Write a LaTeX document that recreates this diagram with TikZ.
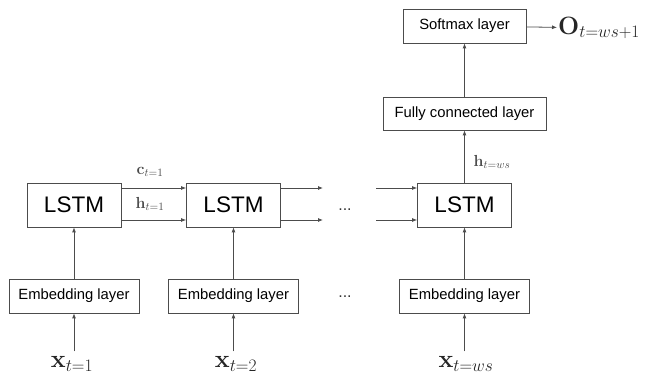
\RequirePackage{fix-cm}
\documentclass[tikz,border=0pt]{standalone}
\usepackage[no-math]{fontspec}
\newfontfamily\arial{Liberation Sans}
\usetikzlibrary{arrows.meta}
\begin{document}
\begin{tikzpicture}[x=1pt,y=-1pt,
    cell/.style={draw=black!70,line width=0.8pt,minimum width=94pt,minimum height=44pt,inner sep=0pt,font=\arial\fontsize{22.5}{27}\selectfont},
    layer/.style={draw=black!70,line width=0.8pt,minimum height=34pt,inner sep=0pt,font=\arial\fontsize{14.8}{18}\selectfont},
    conn/.style={draw=black!70,line width=0.8pt,-{Latex[length=5pt,width=4pt]}},
    inlabel/.style={text=black!85,font=\fontsize{25}{30}\selectfont,inner sep=1pt},
    statelabel/.style={text=black!70,font=\fontsize{16}{19}\selectfont,inner sep=1pt},
    gap/.style={font=\arial\fontsize{16}{19}\selectfont,text=black!80}]
    \useasboundingbox (0,0) rectangle (646,379);

    \node[cell] (lstmA) at (74,205) {LSTM};
    \node[cell] (lstmB) at (233.5,205) {LSTM};
    \node[cell] (lstmC) at (464.5,205) {LSTM};

    \node[layer,minimum width=130pt] (embA) at (74,296) {Embedding layer};
    \node[layer,minimum width=130pt] (embB) at (233.5,296) {Embedding layer};
    \node[layer,minimum width=130pt] (embC) at (464.5,296) {Embedding layer};

    \node[layer,minimum width=163pt,minimum height=33pt] (fc) at (464.5,113.5) {Fully connected layer};
    \node[layer,minimum width=123pt] (soft) at (464.5,26) {Softmax layer};

    \node[inlabel] (xA) at (72,364) {$\mathbf{x}_{t=1}$};
    \node[inlabel] (xB) at (236,364) {$\mathbf{x}_{t=2}$};
    \node[inlabel] (xC) at (466,364) {$\mathbf{x}_{t=ws}$};
    \node[inlabel,anchor=west] (out) at (557,28) {$\mathbf{O}_{t=ws+1}$};

    \node[statelabel] (cA) at (150,172) {$\mathbf{c}_{t=1}$};
    \node[statelabel] (hA) at (150,204) {$\mathbf{h}_{t=1}$};
    \node[statelabel] (hC) at (492,162) {$\mathbf{h}_{t=ws}$};

    \node[gap] (dotsA) at (345,210) {...};
    \node[gap] (dotsB) at (345,297) {...};

    \coordinate (cB) at (323,188);
    \coordinate (hB) at (323,220);
    \coordinate (cC) at (376,188);
    \coordinate (hCin) at (376,220);

    \draw[conn,shorten <=4pt] (xA.north -| embA) -- (embA);
    \draw[conn,shorten <=4pt] (xB.north -| embB) -- (embB);
    \draw[conn,shorten <=4pt] (xC.north -| embC) -- (embC);
    \draw[conn] (embA) -- (lstmA);
    \draw[conn] (embB) -- (lstmB);
    \draw[conn] (embC) -- (lstmC);

    \draw[conn] (lstmA.east |- cB) -- (lstmB.west |- cB);
    \draw[conn] (lstmA.east |- hB) -- (lstmB.west |- hB);
    \draw[conn] (lstmB.east |- cB) -- (cB);
    \draw[conn] (lstmB.east |- hB) -- (hB);
    \draw[conn] (cC) -- (lstmC.west |- cC);
    \draw[conn] (hCin) -- (lstmC.west |- hCin);

    \draw[conn] (lstmC) -- (fc);
    \draw[conn] (fc) -- (soft);
    \draw[conn] (soft) -- (out);
\end{tikzpicture}
\end{document}
